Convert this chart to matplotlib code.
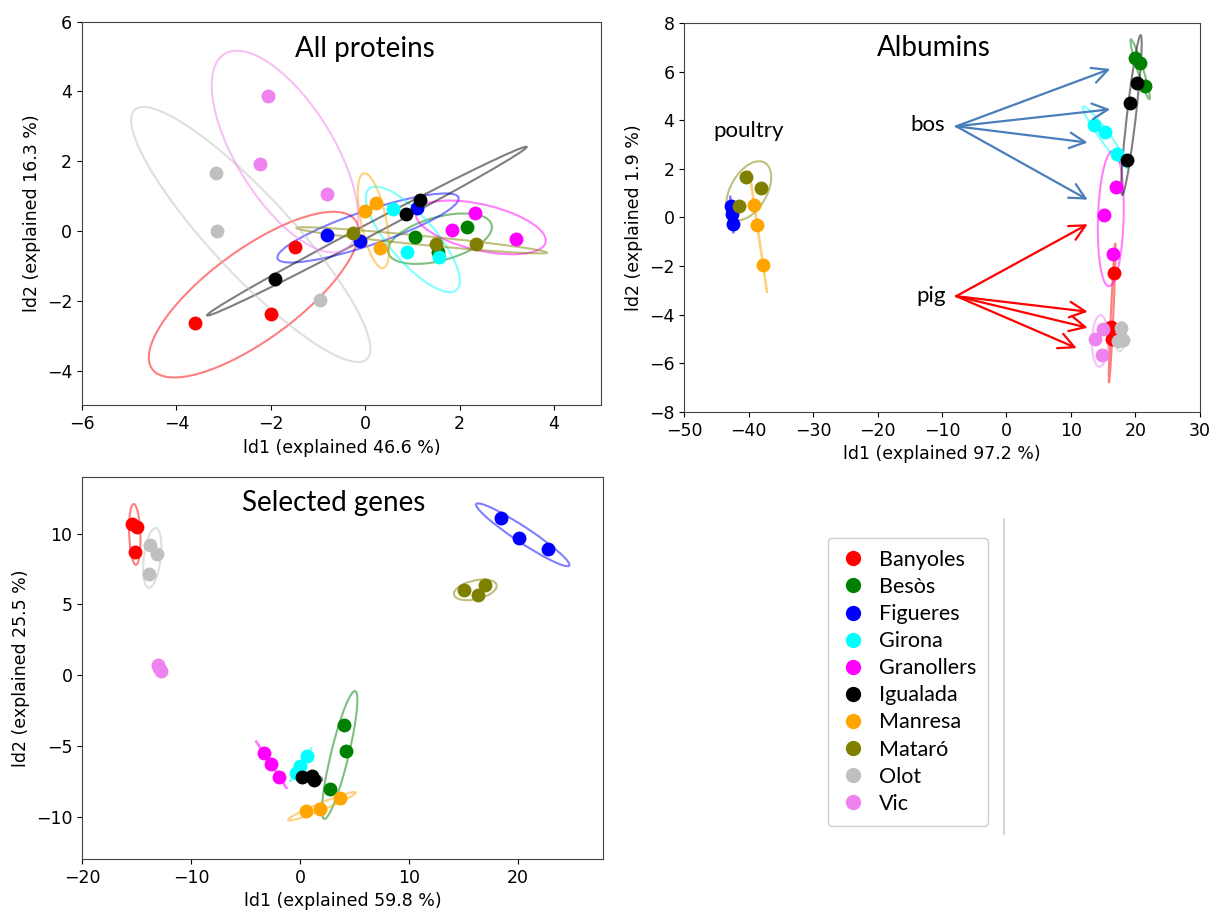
import numpy as np
import matplotlib
matplotlib.use('Agg')
import matplotlib.pyplot as plt
import matplotlib.transforms as transforms
from matplotlib.patches import Ellipse
from matplotlib.lines import Line2D

sites = ['Banyoles', 'Besòs', 'Figueres', 'Girona', 'Granollers',
         'Igualada', 'Manresa', 'Mataró', 'Olot', 'Vic']
colors = ['red', 'green', 'blue', 'cyan', 'magenta',
          'black', 'orange', 'olive', 'silver', 'violet']

# All proteins (ld1, ld2) per site
all_x = [[-1.48, -3.61, -1.99], [1.05, 2.15, 1.55], [-0.81, -0.10, 1.09],
         [0.59, 0.88, 1.56], [1.83, 2.33, 3.19], [-1.91, 0.86, 1.16],
         [-0.01, 0.23, 0.31], [-0.25, 1.50, 2.35], [-3.17, -3.14, -0.96],
         [-2.06, -2.23, -0.81]]
all_y = [[-0.46, -2.63, -2.38], [-0.18, 0.12, -0.60], [-0.11, -0.28, 0.65],
         [0.63, -0.61, -0.74], [0.03, 0.52, -0.24], [-1.38, 0.48, 0.89],
         [0.58, 0.79, -0.48], [-0.05, -0.38, -0.37], [1.67, 0.01, -1.98],
         [3.87, 1.91, 1.05]]

# Albumins
alb_x = [[16.7, 16.2, 16.3], [20.0, 20.7, 21.5], [-42.77, -42.6, -42.51],
         [13.6, 15.3, 17.1], [17.0, 15.06, 16.5], [20.26, 19.22, 18.7],
         [-39.13, -38.7, -37.77], [-40.37, -38.09, -41.51], [17.8, 18.1, 17.3],
         [15.0, 13.8, 14.75]]
alb_y = [[-2.30, -4.5, -5.0], [6.55, 6.35, 5.4], [0.49, 0.14, -0.28],
         [3.80, 3.52, 2.59], [1.26, 0.11, -1.51], [5.55, 4.71, 2.38],
         [0.53, -0.32, -1.95], [1.65, 1.20, 0.45], [-4.55, -5.05, -5.1],
         [-4.6, -5.0, -5.65]]

# Selected genes
gen_x = [[-15.45, -14.93, -15.14], [3.99, 4.20, 2.70], [18.47, 20.12, 22.72],
         [0.6, 0.0, -0.4], [-3.36, -2.65, -1.92], [0.15, 1.1, 1.25],
         [0.53, 1.85, 3.62], [15.01, 16.94, 16.29], [-13.76, -13.09, -13.86],
         [-13.0, -12.78, -12.91]]
gen_y = [[10.66, 10.49, 8.72], [-3.55, -5.35, -8.04], [11.13, 9.71, 8.94],
         [-5.7, -6.4, -6.9], [-5.51, -6.29, -7.21], [-7.2, -7.1, -7.45],
         [-9.64, -9.48, -8.70], [6.01, 6.41, 5.68], [9.17, 8.60, 7.12],
         [0.74, 0.27, 0.51]]

bos_from = (-7.8, 3.75)
bos_tips = [(16.1, 6.11), (16.1, 4.45), (12.6, 3.08), (12.6, 0.73)]
pig_from = (-7.8, -3.24)
pig_tips = [(12.6, -0.28), (12.6, -3.88), (12.6, -4.54), (10.9, -5.38)]

TXT = 'Lato'


def confidence_ellipse(x, y, ax, color, n_std=2.0):
    x = np.asarray(x)
    y = np.asarray(y)
    cov = np.cov(x, y)
    pearson = cov[0, 1] / np.sqrt(cov[0, 0] * cov[1, 1])
    pearson = np.clip(pearson, -1, 1)
    rx = np.sqrt(1 + pearson)
    ry = np.sqrt(1 - pearson)
    ell = Ellipse((0, 0), width=rx * 2, height=ry * 2, facecolor='none',
                  edgecolor=color, alpha=0.5, lw=1.5)
    sx = np.sqrt(cov[0, 0]) * n_std
    sy = np.sqrt(cov[1, 1]) * n_std
    tr = transforms.Affine2D().rotate_deg(45).scale(sx, sy).translate(x.mean(), y.mean())
    ell.set_transform(tr + ax.transData)
    ax.add_patch(ell)


def panel(ax, xs, ys, title, tpos, xlab, ylab):
    for i in range(len(sites)):
        ax.scatter(xs[i], ys[i], s=100, color=colors[i], linewidths=0, zorder=3)
        confidence_ellipse(xs[i], ys[i], ax, colors[i])
    ax.text(tpos[0], tpos[1], title, transform=ax.transAxes, ha='center',
            va='center', fontsize=20, family=TXT)
    ax.set_xlabel(xlab, fontsize=12.5)
    ax.set_ylabel(ylab, fontsize=12.5)
    ax.tick_params(labelsize=12.5)
    for s in ax.spines.values():
        s.set_color('#444444')


plt.rcParams['font.family'] = ['DejaVu Sans']
fig = plt.figure(figsize=(12.16, 9.17), dpi=100)

ax1 = fig.add_axes([0.0674, 0.5578, 0.4270, 0.4186])
panel(ax1, all_x, all_y, 'All proteins', (0.545, 0.93),
      'ld1 (explained 46.6 %)', 'ld2 (explained 16.3 %)')
ax1.set_xlim(-6, 5)
ax1.set_ylim(-5, 6)

ax2 = fig.add_axes([0.5627, 0.5509, 0.4240, 0.4240])
panel(ax2, alb_x, alb_y, 'Albumins', (0.484, 0.936),
      'ld1 (explained 97.2 %)', 'ld2 (explained 1.9 %)')
ax2.set_xlim(-50, 30)
ax2.set_ylim(-8, 8)
ax2.set_yticks(np.arange(-8, 9, 2))
ax2.text(-40.0, 3.57, 'poultry', ha='center', va='center', fontsize=16, family=TXT)
ax2.text(-12.2, 3.8, 'bos', ha='center', va='center', fontsize=16, family=TXT)
ax2.text(-11.7, -3.24, 'pig', ha='center', va='center', fontsize=16, family=TXT)
for t in bos_tips:
    ax2.annotate('', xy=t, xytext=bos_from,
                 arrowprops=dict(arrowstyle='->', color='#4a7ebb', lw=1.6,
                                 mutation_scale=28, shrinkA=0, shrinkB=0))
for t in pig_tips:
    ax2.annotate('', xy=t, xytext=pig_from,
                 arrowprops=dict(arrowstyle='->', color='red', lw=1.6,
                                 mutation_scale=28, shrinkA=0, shrinkB=0))

ax3 = fig.add_axes([0.0676, 0.0633, 0.4283, 0.4163])
panel(ax3, gen_x, gen_y, 'Selected genes', (0.482, 0.932),
      'ld1 (explained 59.8 %)', 'ld2 (explained 25.5 %)')
ax3.set_xlim(-20, 27.8)
ax3.set_ylim(-13, 14)

handles = [Line2D([], [], marker='o', linestyle='', color=c, markersize=11,
                  markeredgewidth=0) for c in colors]
leg = fig.legend(handles, sites, loc='upper left',
                 bbox_to_anchor=(828 / 1216, 1 - 538 / 917),
                 borderaxespad=0, prop={'family': TXT, 'size': 15.5},
                 labelspacing=0.33, handletextpad=0.6, handlelength=1.2,
                 borderpad=0.55, frameon=True, fancybox=True, framealpha=1)
leg.get_frame().set_edgecolor('#cccccc')

fig.add_artist(Line2D([1004 / 1216, 1004 / 1216], [1 - 519 / 917, 1 - 834 / 917],
                      color='#cccccc', lw=1.2))

fig.savefig('out.png', dpi=100)
